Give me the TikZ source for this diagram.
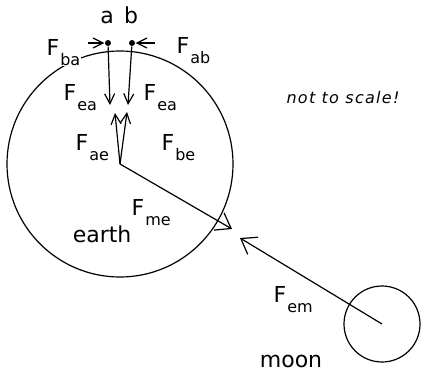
\documentclass[tikz,border=0pt]{standalone}
\usepackage{fontspec}
\setmainfont{DejaVu Sans}
\usetikzlibrary{arrows.meta}
\newcommand\Fsub[1]{F\kern1pt\raisebox{-10pt}{\fontsize{16}{16}\selectfont #1}}
\begin{document}
\begin{tikzpicture}[x=1pt,y=-1pt,
  line width=1.2pt,
  body/.style={circle,draw,inner sep=0pt,line width=1.2pt},
  pt/.style={circle,fill,inner sep=0pt,minimum size=6pt},
  force/.style={-{Straight Barb[length=10pt,width=10pt]}},
  bigforce/.style={-{Straight Barb[length=14pt,width=20pt]}},
  lbl/.style={font=\fontsize{22}{24}\selectfont, inner sep=1pt, fill=white},
]
\useasboundingbox (0,0) rectangle (422,372);
% bodies
\node[body,minimum size=226pt] (earth) at (120,164) {};
\node[body,minimum size=76pt] (moon) at (382,324) {};
\coordinate (ec) at (120,164);
\coordinate (mc) at (382,324);
% points a and b
\node[pt] (a) at (108,43) {};
\node[pt] (b) at (132,43) {};
\node[lbl,anchor=base] (la) at (107,23) {a};
\node[lbl,anchor=base] (lb) at (131,23) {b};
% mutual forces between a and b
\coordinate (sba) at (88,43);
\coordinate (sab) at (155,43);
\draw[force] (sba) -- (a);
\draw[force] (sab) -- (b);
% forces of earth on a and b
\coordinate (ta) at (110,105);
\coordinate (tb) at (128,105);
\draw[force] (a) -- (ta);
\draw[force] (b) -- (tb);
% forces of a and b on earth
\coordinate (tae) at (115,113);
\coordinate (tbe) at (127,112);
\draw[force] (ec) -- (tae);
\draw[force] (ec) -- (tbe);
% earth-moon forces
\coordinate (tme) at (232,229);
\coordinate (tem) at (240,238);
\draw[bigforce] (ec) -- (tme);
\draw[bigforce] (mc) -- (tem);
% labels
\node[lbl,anchor=base west] (fba) at (45,55) {\Fsub{ba}};
\node[lbl,anchor=base west] (fab) at (175,53) {\Fsub{ab}};
\node[lbl,anchor=base west] (fea1) at (62,100) {\Fsub{ea}};
\node[lbl,anchor=base west] (fea2) at (142,100) {\Fsub{ea}};
\node[lbl,anchor=base west] (fae) at (74,150) {\Fsub{ae}};
\node[lbl,anchor=base west] (fbe) at (160,150) {\Fsub{be}};
\node[lbl,anchor=base west] (fme) at (130,215) {\Fsub{me}};
\node[lbl,anchor=base west] (fem) at (272,302) {\Fsub{em}};
\node[lbl,anchor=base east] (le) at (133,242) {earth};
\node[lbl,anchor=base] (lm) at (291,367) {moon};
\node[anchor=base,inner sep=0pt,font=\fontsize{16}{17}\itshape\addfontfeatures{LetterSpace=8}] (nts) at (343,103) {not to scale!};
\end{tikzpicture}
\end{document}
